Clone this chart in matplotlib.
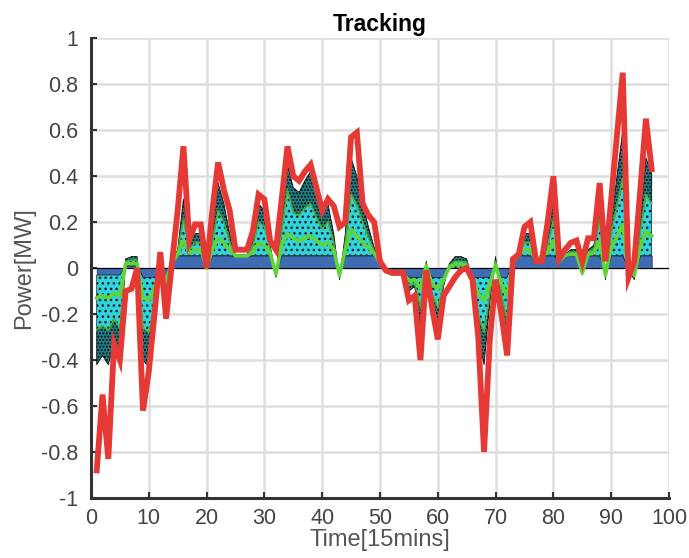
import matplotlib
matplotlib.use("Agg")
import matplotlib.pyplot as plt
import numpy as np

# time steps
t = list(range(1, 98))

# reference (red) tracking signal
red = [-0.88, -0.55, -0.83, -0.33, -0.40, -0.10, -0.09, 0.00, -0.62, -0.45,
       -0.20, 0.07, -0.22, 0.02, 0.25, 0.53, 0.12, 0.19, 0.19, 0.00,
       0.25, 0.46, 0.34, 0.25, 0.08, 0.08, 0.08, 0.16, 0.32, 0.30,
       0.12, 0.08, 0.30, 0.53, 0.40, 0.38, 0.42, 0.45, 0.35, 0.25,
       0.30, 0.27, 0.18, 0.20, 0.57, 0.59, 0.28, 0.23, 0.20, 0.03,
       -0.01, -0.02, -0.02, -0.02, -0.14, -0.12, -0.40, -0.01, -0.17, -0.31,
       -0.12, -0.08, -0.04, -0.01, 0.00, -0.05, -0.30, -0.80, -0.31, -0.05,
       -0.20, -0.38, 0.04, 0.06, 0.18, 0.20, 0.03, 0.03, 0.20, 0.40,
       0.04, 0.08, 0.11, 0.12, 0.03, 0.13, 0.13, 0.37, 0.03, 0.30,
       0.58, 0.85, -0.04, 0.03, 0.33, 0.65, 0.43]

# stacked area boundaries (cumulative)
total = [-0.42, -0.38, -0.42, -0.33, -0.40, 0.04, 0.05, 0.05, -0.40, -0.43,
         -0.25, 0.02, -0.10, 0.03, 0.08, 0.30, 0.10, 0.15, 0.15, 0.00,
         0.15, 0.37, 0.28, 0.15, 0.06, 0.06, 0.06, 0.12, 0.28, 0.25,
         0.10, -0.04, 0.22, 0.45, 0.35, 0.33, 0.38, 0.42, 0.32, 0.24,
         0.28, 0.15, -0.05, 0.15, 0.48, 0.40, 0.28, 0.18, 0.09, 0.03,
         -0.02, -0.03, -0.03, -0.03, -0.10, -0.08, -0.25, 0.03, -0.15, -0.25,
         -0.08, 0.02, 0.05, 0.05, 0.04, -0.05, -0.30, -0.42, -0.15, 0.05,
         -0.15, -0.35, 0.03, 0.06, 0.15, 0.15, 0.03, 0.06, 0.12, 0.30,
         0.03, 0.06, 0.08, 0.08, -0.03, 0.08, 0.10, 0.30, -0.05, 0.20,
         0.40, 0.60, -0.01, -0.05, 0.20, 0.48, 0.41]

base = [-0.03, -0.03, -0.03, -0.03, -0.03, 0.01, 0.01, 0.01, -0.04, -0.04,
        -0.04, 0.00, -0.04, 0.02, 0.055, 0.055, 0.055, 0.055, 0.055, 0.00,
        0.055, 0.055, 0.055, 0.055, 0.05, 0.05, 0.05, 0.055, 0.055, 0.055,
        0.055, -0.02, 0.055, 0.055, 0.055, 0.055, 0.055, 0.055, 0.055, 0.055,
        0.055, 0.055, -0.02, 0.055, 0.055, 0.055, 0.055, 0.055, 0.055, 0.02,
        -0.01, -0.015, -0.015, -0.015, -0.04, -0.04, -0.04, 0.00, -0.04, -0.04,
        -0.04, 0.00, 0.00, 0.00, 0.00, -0.04, -0.04, -0.04, -0.04, 0.00,
        -0.04, -0.04, 0.03, 0.055, 0.055, 0.055, 0.03, 0.055, 0.055, 0.055,
        0.03, 0.055, 0.055, 0.055, -0.015, 0.055, 0.055, 0.055, -0.02, 0.055,
        0.055, 0.055, -0.005, -0.02, 0.055, 0.055, 0.055]

green = [-0.13, -0.12, -0.13, -0.11, -0.12, 0.02, 0.02, 0.02, -0.13, -0.14,
         -0.09, 0.005, -0.055, 0.022, 0.06, 0.12, 0.066, 0.08, 0.08, 0.00,
         0.08, 0.13, 0.11, 0.08, 0.053, 0.053, 0.053, 0.07, 0.11, 0.10,
         0.066, -0.025, 0.10, 0.15, 0.13, 0.12, 0.13, 0.14, 0.12, 0.10,
         0.11, 0.08, -0.03, 0.08, 0.17, 0.14, 0.11, 0.09, 0.064, 0.023,
         -0.013, -0.02, -0.02, -0.02, -0.055, -0.05, -0.09, 0.01, -0.07, -0.09,
         -0.05, 0.005, 0.015, 0.015, 0.01, -0.043, -0.11, -0.14, -0.07, 0.015,
         -0.07, -0.12, 0.03, 0.056, 0.08, 0.08, 0.03, 0.056, 0.07, 0.12,
         0.03, 0.056, 0.06, 0.06, -0.02, 0.06, 0.066, 0.12, -0.03, 0.09,
         0.14, 0.19, -0.007, -0.03, 0.09, 0.16, 0.14]

dark = [-0.27, -0.25, -0.27, -0.22, -0.26, 0.03, 0.035, 0.035, -0.26, -0.28,
        -0.17, 0.012, -0.08, 0.026, 0.07, 0.21, 0.083, 0.11, 0.11, 0.00,
        0.11, 0.25, 0.20, 0.11, 0.056, 0.056, 0.056, 0.095, 0.20, 0.18,
        0.083, -0.032, 0.16, 0.34, 0.24, 0.23, 0.26, 0.28, 0.22, 0.17,
        0.20, 0.11, -0.04, 0.11, 0.32, 0.27, 0.20, 0.13, 0.077, 0.027,
        -0.016, -0.025, -0.025, -0.025, -0.077, -0.065, -0.17, 0.02, -0.11, -0.17,
        -0.065, 0.012, 0.03, 0.03, 0.025, -0.046, -0.20, -0.28, -0.11, 0.03,
        -0.11, -0.23, 0.03, 0.058, 0.11, 0.11, 0.03, 0.058, 0.095, 0.21,
        0.03, 0.058, 0.07, 0.07, -0.025, 0.07, 0.083, 0.21, -0.04, 0.15,
        0.27, 0.39, -0.008, -0.04, 0.15, 0.32, 0.28]

plt.rcParams['font.family'] = ['Liberation Sans', 'DejaVu Sans']
plt.rcParams['hatch.linewidth'] = 1.0

fig = plt.figure(figsize=(6.89, 5.58), dpi=100)
ax = fig.add_axes([0.132, 0.1075, 0.839, 0.824])

ax.set_axisbelow(True)
ax.grid(True, color='#dedede', linewidth=1.8)

ax.fill_between(t, 0, base, facecolor='#3e6db3', edgecolor='#1a1a1a',
                linewidth=0.5, zorder=2)
ax.fill_between(t, base, green, facecolor='#2fd3dc', edgecolor='#1a1a1a',
                hatch='...', linewidth=0.5, zorder=3)
ax.fill_between(t, green, dark, facecolor='#2fd3dc', edgecolor='#1a1a1a',
                hatch='...', linewidth=0.5, zorder=3)
ax.plot(t, green, color='#5ed43a', linewidth=2.6, zorder=4)
ax.plot(t, dark, color='#5ed43a', linewidth=1.2, zorder=4, alpha=0.8)
ax.fill_between(t, dark, total, facecolor='#1f7f86', edgecolor='#0a0a0a',
                hatch='.....', linewidth=0.6, zorder=3)
ax.axhline(0, color='black', linewidth=0.8, zorder=2.5)
ax.plot(t, red, color='#e53935', linewidth=4.2, zorder=6,
        solid_joinstyle='miter')

ax.set_xlim(0, 100)
ax.set_ylim(-1, 1)
ax.set_xticks(np.arange(0, 101, 10))
ax.set_yticks(np.round(np.arange(-1, 1.01, 0.2), 1))
ax.set_yticklabels(['-1', '-0.8', '-0.6', '-0.4', '-0.2', '0', '0.2', '0.4',
                    '0.6', '0.8', '1'])

for s in ['top', 'right']:
    ax.spines[s].set_visible(False)
for s in ['left', 'bottom']:
    ax.spines[s].set_color('#333333')
    ax.spines[s].set_linewidth(2.2)
ax.tick_params(direction='in', length=4, width=1.5, colors='#333333',
               labelsize=15.5, labelcolor='#444444')
ax.tick_params(axis='y', pad=9)
ax.tick_params(axis='x', pad=7)

ax.set_title('Tracking', fontsize=16.5, fontweight='bold', pad=5)
ax.set_xlabel('Time[15mins]', fontsize=17, color='#555555', labelpad=0)
ax.set_ylabel('Power[MW]', fontsize=17, color='#555555', labelpad=4)

fig.savefig('out.png', dpi=100)
